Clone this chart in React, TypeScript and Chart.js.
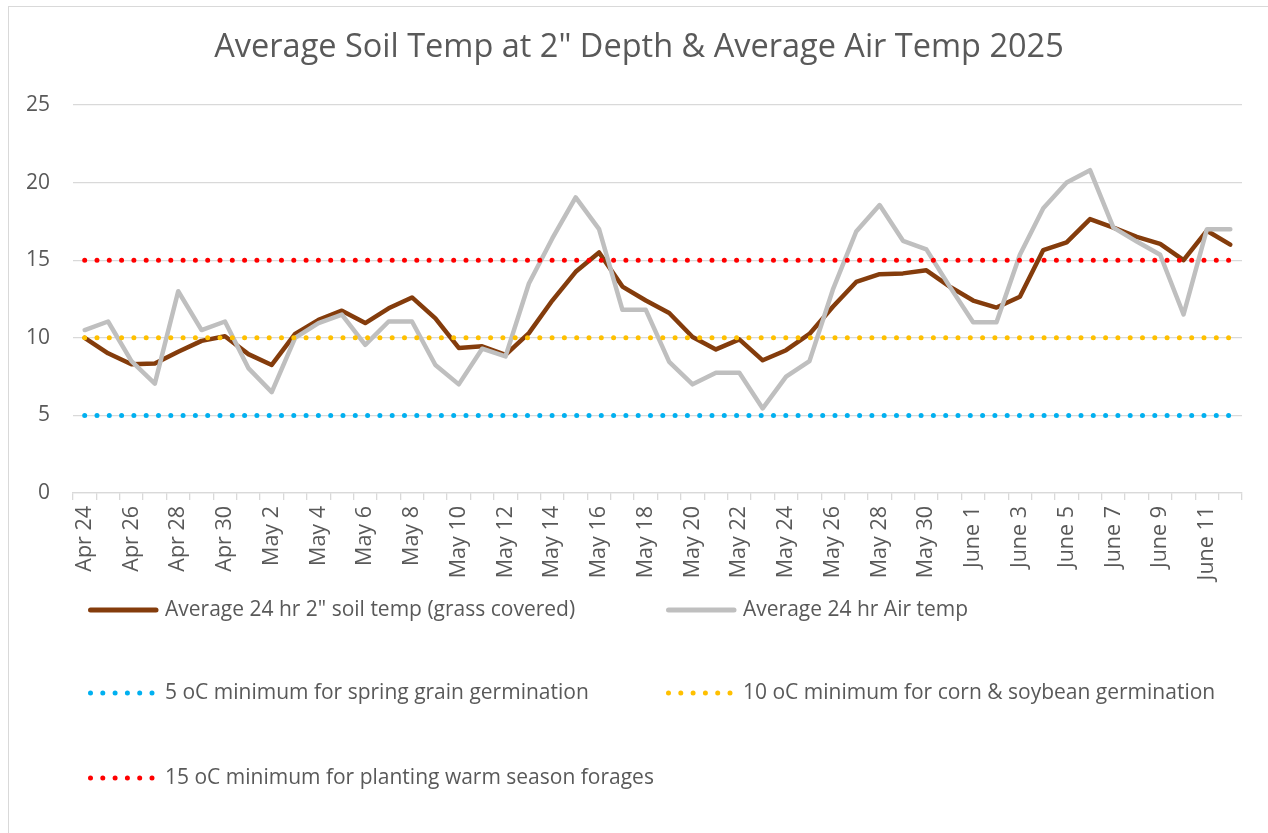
import React, { useEffect, useRef } from "react";
import { Chart, registerables } from "chart.js";

Chart.register(...registerables);

const titleText = 'Average Soil Temp at 2" Depth & Average Air Temp 2025';

const categories = [
  "Apr 24", "Apr 25", "Apr 26", "Apr 27", "Apr 28", "Apr 29", "Apr 30",
  "May 1", "May 2", "May 3", "May 4", "May 5", "May 6", "May 7", "May 8", "May 9", "May 10",
  "May 11", "May 12", "May 13", "May 14", "May 15", "May 16", "May 17", "May 18", "May 19", "May 20",
  "May 21", "May 22", "May 23", "May 24", "May 25", "May 26", "May 27", "May 28", "May 29", "May 30", "May 31",
  "June 1", "June 2", "June 3", "June 4", "June 5", "June 6", "June 7", "June 8", "June 9", "June 10", "June 11", "June 12",
];

const soilTemp = [
  10.0, 9.0, 8.3, 8.35, 9.1, 9.8, 10.1, 8.95, 8.25, 10.25, 11.15, 11.75, 10.95, 11.9, 12.6, 11.25, 9.35,
  9.45, 8.9, 10.3, 12.4, 14.25, 15.5, 13.3, 12.4, 11.6, 10.05, 9.25, 9.9, 8.55, 9.2, 10.25, 12.0, 13.6,
  14.1, 14.15, 14.35, 13.3, 12.4, 11.95, 12.65, 15.65, 16.15, 17.65, 17.1, 16.5, 16.05, 15.0, 16.9, 16.0,
];

const airTemp = [
  10.5, 11.05, 8.5, 7.05, 13.0, 10.5, 11.05, 8.05, 6.5, 10.0, 10.95, 11.5, 9.55, 11.05, 11.05, 8.25, 7.0,
  9.3, 8.8, 13.5, 16.4, 19.05, 17.0, 11.8, 11.8, 8.45, 7.0, 7.75, 7.75, 5.45, 7.5, 8.5, 13.1, 16.85,
  18.55, 16.25, 15.7, 13.3, 11.0, 11.0, 15.35, 18.35, 20.0, 20.8, 17.1, 16.2, 15.35, 11.5, 17.0, 17.0,
];

const springGrainMin = 5;
const cornSoyMin = 10;
const warmForageMin = 15;

const seriesLabels = [
  'Average 24 hr 2" soil temp (grass covered)',
  "Average 24 hr Air temp",
  "5 oC minimum for spring grain germination",
  "10 oC minimum for corn & soybean germination",
  "15 oC minimum for planting warm season forages",
];

const FONT = '"Open Sans", "Noto Sans", sans-serif';
const TEXT = "#595959";
const GRID = "#d9d9d9";

const titleAndLegendPlugin = {
  id: "titleAndLegend",
  afterDraw(chart: any) {
    const ctx = chart.ctx;
    const { left, bottom } = chart.chartArea;

    // title
    ctx.save();
    ctx.fillStyle = TEXT;
    ctx.font = `32.5px ${FONT}`;
    ctx.textAlign = "center";
    ctx.textBaseline = "middle";
    ctx.fillText(titleText, chart.width / 2 + 5, 48);
    ctx.restore();

    // legend
    const rowOffsets = [117, 200, 285];
    const colOffsets = [15, 593];
    chart.data.datasets.forEach((ds: any, i: number) => {
      const row = Math.floor(i / 2);
      const col = i % 2;
      const x = left + colOffsets[col];
      const y = bottom + rowOffsets[row];
      ctx.save();
      ctx.strokeStyle = ds.borderColor;
      ctx.lineCap = "round";
      ctx.beginPath();
      ctx.lineWidth = 5;
      if (ds.borderDash && ds.borderDash.length) {
        ctx.setLineDash([0, 12.3]);
        ctx.moveTo(x + 2.5, y);
        ctx.lineTo(x + 66, y);
      } else {
        ctx.moveTo(x + 2.5, y);
        ctx.lineTo(x + 68, y);
      }
      ctx.stroke();
      ctx.setLineDash([]);
      ctx.fillStyle = TEXT;
      ctx.font = `21px ${FONT}`;
      ctx.textBaseline = "middle";
      ctx.textAlign = "left";
      ctx.fillText(ds.label, x + 77, y);
      ctx.restore();
    });
  },
};

export default function App() {
  const canvasRef = useRef<HTMLCanvasElement | null>(null);

  useEffect(() => {
    const canvas = canvasRef.current;
    if (!canvas) return;
    const dotted = (label: string, color: string, value: number, order: number) => ({
      label,
      data: categories.map(() => value),
      borderColor: color,
      backgroundColor: color,
      borderWidth: 5,
      borderDash: [0, 12.3],
      borderCapStyle: "round",
      pointRadius: 0,
      fill: false,
      tension: 0,
      order,
    });
    const chart = new Chart(canvas, {
      type: "line",
      data: {
        labels: categories,
        datasets: [
          {
            label: seriesLabels[0],
            data: soilTemp,
            borderColor: "#843C0C",
            backgroundColor: "#843C0C",
            borderWidth: 4.5,
            pointRadius: 0,
            borderJoinStyle: "round",
            borderCapStyle: "round",
            fill: false,
            tension: 0,
            order: 5,
          },
          {
            label: seriesLabels[1],
            data: airTemp,
            borderColor: "#BFBFBF",
            backgroundColor: "#BFBFBF",
            borderWidth: 4.5,
            pointRadius: 0,
            borderJoinStyle: "round",
            borderCapStyle: "round",
            fill: false,
            tension: 0,
            order: 4,
          },
          dotted(seriesLabels[2], "#00B0F0", springGrainMin, 3),
          dotted(seriesLabels[3], "#FFC000", cornSoyMin, 2),
          dotted(seriesLabels[4], "#FF0000", warmForageMin, 1),
        ] as any,
      },
      options: {
        animation: false,
        responsive: true,
        maintainAspectRatio: false,
        layout: { padding: { left: 20, right: 26, top: 105, bottom: 240 } },
        plugins: {
          legend: { display: false },
          tooltip: { enabled: false },
          title: { display: false },
        },
        scales: {
          x: {
            offset: true,
            grid: {
              offset: true,
              drawOnChartArea: false,
              drawTicks: true,
              tickLength: 7,
              color: GRID,
              lineWidth: 1.3,
            },
            border: { color: GRID, width: 1.3 },
            ticks: {
              autoSkip: false,
              maxRotation: 90,
              minRotation: 90,
              padding: 6,
              color: TEXT,
              font: { family: FONT, size: 21.5 },
              callback: (_v: any, i: number) => (i % 2 === 0 ? categories[i] : ""),
            },
            afterFit: (s: any) => {
              s.height = 100;
            },
          },
          y: {
            min: 0,
            max: 25,
            ticks: {
              stepSize: 5,
              padding: 23,
              color: TEXT,
              font: { family: FONT, size: 21 },
            },
            grid: { color: GRID, lineWidth: 1.3, drawTicks: false },
            border: { display: false },
            afterFit: (s: any) => {
              s.width = 53;
            },
          },
        },
      } as any,
      plugins: [titleAndLegendPlugin],
    });
    return () => chart.destroy();
  }, []);

  return (
    <div
      style={{
        position: "fixed",
        left: 0,
        top: 0,
        width: 1268,
        height: 833,
        overflow: "hidden",
        background: "#ffffff",
      }}
    >
      <div
        style={{
          position: "absolute",
          left: 8,
          top: 6,
          width: 1300,
          height: 900,
          borderLeft: `1.5px solid ${GRID}`,
          borderTop: `1.5px solid ${GRID}`,
        }}
      />
      <div style={{ position: "absolute", left: 0, top: 0, width: 1268, height: 833 }}>
        <canvas ref={canvasRef} />
      </div>
    </div>
  );
}
